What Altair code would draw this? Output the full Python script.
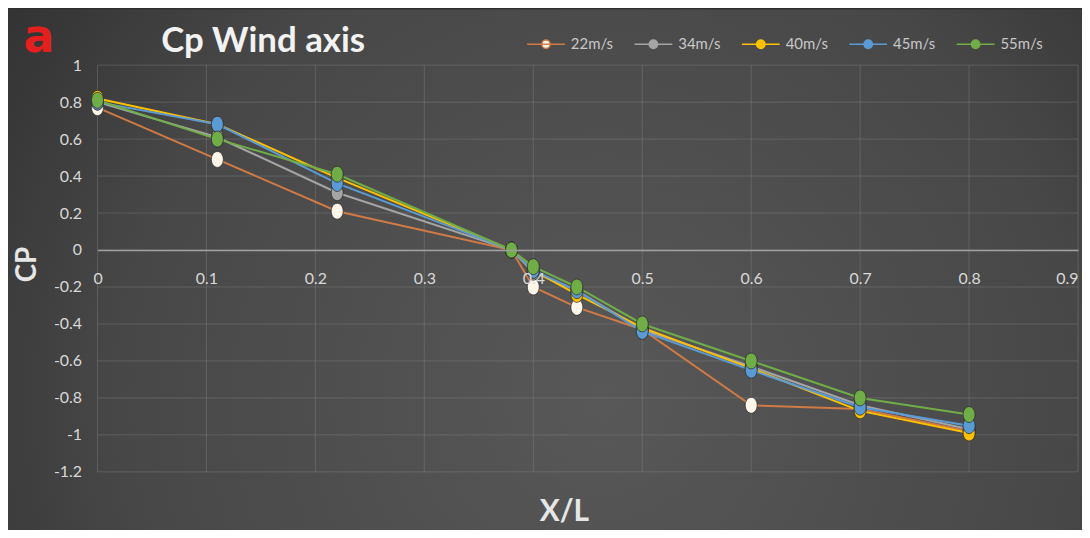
import altair as alt
import pandas as pd

# ---- data ----
xl = [0.0, 0.11, 0.22, 0.38, 0.40, 0.44, 0.50, 0.60, 0.70, 0.80]
series = ["22m/s", "34m/s", "40m/s", "45m/s", "55m/s"]
cp22 = [0.77, 0.49, 0.21, 0.00, -0.20, -0.31, -0.43, -0.84, -0.86, -0.98]
cp34 = [0.80, 0.61, 0.31, 0.00, -0.12, -0.22, -0.43, -0.63, -0.84, -0.97]
cp40 = [0.82, 0.68, 0.39, 0.00, -0.11, -0.24, -0.42, -0.64, -0.87, -0.99]
cp45 = [0.80, 0.68, 0.36, 0.00, -0.11, -0.22, -0.44, -0.65, -0.85, -0.95]
cp55 = [0.81, 0.60, 0.41, 0.00, -0.09, -0.20, -0.40, -0.60, -0.80, -0.89]

line_colors = ["#d07a45", "#a5a5a5", "#ffc000", "#5b9bd5", "#70ad47"]
marker_fills = ["#fff6ea", "#a5a5a5", "#ffc000", "#5b9bd5", "#70ad47"]

x_ticks = [0.0, 0.1, 0.2, 0.3, 0.4, 0.5, 0.6, 0.7, 0.8, 0.9]
y_ticks = [-1.2, -1.0, -0.8, -0.6, -0.4, -0.2, 0.0, 0.2, 0.4, 0.6, 0.8, 1.0]

rows = []
for s, vals in zip(series, [cp22, cp34, cp40, cp45, cp55]):
    for x, v in zip(xl, vals):
        rows.append({"Series": s, "XL": x, "CP": v})
df = pd.DataFrame(rows)

W, H = 986, 409
FONT = "Lato"
GRID = "#8e8e8e"

x_scale = alt.Scale(domain=[0, 0.9], nice=False, zero=False)
y_scale = alt.Scale(domain=[-1.2, 1.0], nice=False, zero=False)

x_axis = alt.Axis(
    values=x_ticks, offset=-223, ticks=False, domain=True, zindex=1,
    domainColor="#a0a0a0", domainWidth=1.5, grid=False,
    labelExpr="'' + datum.value", labelFlush=False, labelOverlap=False,
    labelAlign={"condition": {"test": "datum.value >= 0.9", "value": "right"}, "value": "center"},
    labelPadding=21, labelColor="#d9d9d9", labelFontSize=16, labelFont=FONT,
    title="X/L", titleFont=FONT, titleFontSize=30, titleFontWeight="bold",
    titleColor="#e6e6e6", titleX=469, titleY=263, titleAlign="center",
    titleBaseline="middle",
)
y_axis = alt.Axis(
    values=y_ticks, ticks=False, domain=False, zindex=1, grid=False,
    labelExpr="'' + datum.value", labelOverlap=False,
    labelPadding=16, labelColor="#d9d9d9", labelFontSize=16, labelFont=FONT,
    title="CP", titleFont=FONT, titleFontSize=28, titleFontWeight="bold",
    titleColor="#e6e6e6", titleX=-70, titleY=200, titleAngle=270,
    titleAlign="center", titleBaseline="middle",
)

x_enc = alt.X("XL:Q", scale=x_scale, axis=x_axis)
y_enc = alt.Y("CP:Q", scale=y_scale, axis=y_axis)

legend_symbol = "M-1,0L1,0M-0.22,0A0.22,0.22,0,1,0,0.22,0A0.22,0.22,0,1,0,-0.22,0Z"


def make_legend():
    return alt.Legend(
        title=None, orient="none", legendX=431, legendY=-41,
        direction="horizontal", symbolType=legend_symbol, symbolSize=1444,
        symbolStrokeWidth=1.5, labelFont=FONT, labelFontSize=15,
        labelColor="#c8c8c8", labelOffset=5, columnPadding=18, padding=0,
        symbolOpacity=1,
    )


color_enc = alt.Color(
    "Series:N",
    scale=alt.Scale(domain=series, range=line_colors),
    sort=series,
    legend=make_legend(),
)

bg = alt.Chart(alt.Data(values=[{}])).mark_rect(
    color={
        "gradient": "radial",
        "x1": 0.55, "y1": 0.62, "r1": 0.0,
        "x2": 0.55, "y2": 0.62, "r2": 0.75,
        "stops": [
            {"offset": 0, "color": "#585858"},
            {"offset": 0.6, "color": "#474747"},
            {"offset": 1, "color": "#2a2a2a"},
        ],
    }
).encode(
    x=alt.value(-90), x2=alt.value(W + 10),
    y=alt.value(-56), y2=alt.value(H + 60),
)

vgrid = alt.Chart(pd.DataFrame({"XL": x_ticks})).mark_rule(
    color=GRID, opacity=0.35, strokeWidth=1
).encode(x=x_enc)

hgrid = alt.Chart(pd.DataFrame({"CP": y_ticks})).mark_rule(
    color=GRID, opacity=0.35, strokeWidth=1
).encode(y=y_enc)

letter = alt.Chart(alt.Data(values=[{"t": "a"}])).mark_text(
    font="DejaVu Sans", fontWeight="bold", fontSize=46, color="#e3201e",
    align="center", baseline="alphabetic",
).encode(x=alt.value(-59), y=alt.value(-13), text="t:N")

lines = alt.Chart(df).mark_line(strokeWidth=2).encode(
    x=x_enc, y=y_enc, color=color_enc, order="XL:Q"
)

points = alt.Chart(df).mark_point(
    shape="M-0.75,0A0.75,1,0,1,0,0.75,0A0.75,1,0,1,0,-0.75,0Z",
    size=256, filled=True, opacity=1, stroke="#262626", strokeWidth=1,
    strokeOpacity=0.7,
).encode(
    x=x_enc, y=y_enc,
    fill=alt.Fill("Series:N", scale=alt.Scale(domain=series, range=marker_fills),
                  sort=series, legend=make_legend()),
)

chart = alt.layer(bg, vgrid, hgrid, letter, lines, points).properties(
    width=W, height=H,
    autosize=alt.AutoSizeParams(type="none"),
    padding={"left": 90, "top": 56, "right": 4, "bottom": 57},
    title=alt.TitleParams(
        "Cp Wind axis", anchor="start", frame="group", dx=64, dy=67, font=FONT,
        fontSize=35, fontWeight="bold", color="#f2f2f2", offset=0,
        baseline="middle",
    ),
).configure_view(strokeWidth=0).configure(background="#2e2e2e")

chart.save("out.html", embed_options={"renderer": "svg", "actions": False})
